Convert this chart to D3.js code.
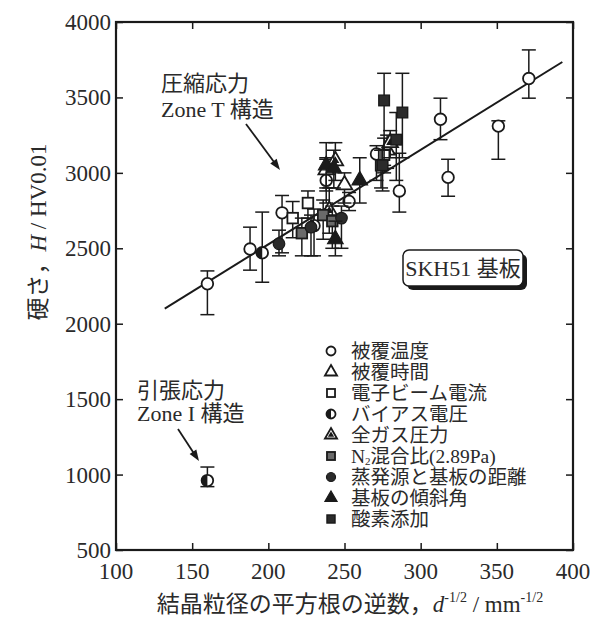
<!DOCTYPE html>
<html>
<head>
<meta charset="utf-8">
<script src="https://cdn.jsdelivr.net/npm/d3@7"></script>
<style>
  html, body { margin: 0; padding: 0; background: #fff; }
  svg { display: block; }
  text { fill: #2a2a2a; font-family: "Liberation Serif", "Noto Sans CJK JP", serif; }
</style>
</head>
<body>
<svg id="chart" width="595" height="620"></svg>
<script>
// Axis ticks
const xTicks = [100, 150, 200, 250, 300, 350, 400];
const yTicks = [500, 1000, 1500, 2000, 2500, 3000, 3500, 4000];

// Series: [x, H, lower, upper]
const coatTemp = [ // 被覆温度
  [160, 2265, 2060, 2350], [188, 2495, 2355, 2640], [209, 2735, 2470, 2850],
  [238, 2950, 2800, 3090], [253, 2810, 2750, 2870], [271, 3125, 2950, 3180],
  [286, 2880, 2740, 3130], [313, 3355, 3220, 3495], [318, 2970, 2845, 3090],
  [351, 3310, 3090, 3345], [371, 3625, 3495, 3815]
];
const coatTime = [ // 被覆時間
  [238, 3020, 2880, 3100], [250, 2920, 2800, 3000], [278, 3150, 3030, 3250]
];
const beamCurrent = [ // 電子ビーム電流
  [216, 2700, 2570, 2810], [226, 2800, 2700, 2880], [276, 3120, 3000, 3230]
];
const biasVoltage = [ // バイアス電圧
  [160, 960, 920, 1050], [196, 2470, 2275, 2740], [230, 2650, 2450, 2760]
];
const gasPressure = [ // 全ガス圧力
  [240, 2750, 2600, 2900], [244, 3080, 2950, 3200], [280, 3200, 3100, 3280]
];
const n2Ratio = [ // N2混合比
  [222, 2600, 2450, 2700], [236, 2720, 2560, 2820], [242, 2680, 2500, 2780],
  [274, 3050, 2900, 3150]
];
const sourceDist = [ // 蒸発源と基板の距離
  [207, 2530, 2450, 2620], [228, 2640, 2450, 2720], [248, 2700, 2500, 2780]
];
const tiltAngle = [ // 基板の傾斜角
  [238, 3050, 2900, 3200], [243, 3030, 2900, 3150], [244, 2560, 2450, 2680],
  [260, 2950, 2800, 3100]
];
const oxygen = [ // 酸素添加
  [276, 3480, 3050, 3660], [288, 3400, 3100, 3660], [284, 3220, 2950, 3400],
  [275, 3050, 2880, 3150]
];

// Fitted line end points
const fitX = [132, 393];
const fitY = [2100, 3735];

const legendLabels = ["被覆温度", "被覆時間", "電子ビーム電流", "バイアス電圧", "全ガス圧力",
  "N2混合比(2.89Pa)", "蒸発源と基板の距離", "基板の傾斜角", "酸素添加"];
const markerKinds = ["circle", "triangle", "square", "halfCircle", "dotTriangle",
  "greySquare", "filledCircle", "filledTriangle", "filledSquare"];
const seriesList = [coatTemp, coatTime, beamCurrent, biasVoltage, gasPressure,
  n2Ratio, sourceDist, tiltAngle, oxygen];

const svg = d3.select("#chart");
const plotL = 116, plotR = 573, plotT = 22, plotB = 550;
const x = d3.scaleLinear().domain([100, 400]).range([plotL, plotR]);
const y = d3.scaleLinear().domain([500, 4000]).range([plotB, plotT]);

const ink = "#1a1a1a";

// Inward ticks on all four sides
const tickLen = 7;
svg.append("g").attr("transform", `translate(0,${plotB})`)
  .call(d3.axisBottom(x).tickValues(xTicks).tickSize(-tickLen).tickFormat(""))
  .call(g => g.select(".domain").remove());
svg.append("g").attr("transform", `translate(0,${plotT})`)
  .call(d3.axisTop(x).tickValues(xTicks).tickSize(-tickLen).tickFormat(""))
  .call(g => g.select(".domain").remove());
svg.append("g").attr("transform", `translate(${plotL},0)`)
  .call(d3.axisLeft(y).tickValues(yTicks).tickSize(-tickLen).tickFormat(""))
  .call(g => g.select(".domain").remove());
svg.append("g").attr("transform", `translate(${plotR},0)`)
  .call(d3.axisRight(y).tickValues(yTicks).tickSize(-tickLen).tickFormat(""))
  .call(g => g.select(".domain").remove());
svg.selectAll(".tick line").attr("stroke", ink).attr("stroke-width", 1.5);

// Frame
svg.append("rect").attr("x", plotL).attr("y", plotT)
  .attr("width", plotR - plotL).attr("height", plotB - plotT)
  .attr("fill", "none").attr("stroke", ink).attr("stroke-width", 2.2);

// Tick labels
svg.append("g").selectAll("text").data(yTicks).join("text")
  .attr("x", plotL - 5).attr("y", d => y(d) + 8)
  .attr("text-anchor", "end").attr("font-size", 23).text(d => d);
svg.append("g").selectAll("text").data(xTicks).join("text")
  .attr("x", d => x(d)).attr("y", plotB + 29)
  .attr("text-anchor", "middle").attr("font-size", 23).text(d => d);

// Axis titles
const xt = svg.append("text").attr("x", 350).attr("y", 612)
  .attr("text-anchor", "middle").attr("font-size", 23);
xt.append("tspan").text("結晶粒径の平方根の逆数，");
xt.append("tspan").attr("font-style", "italic").text("d");
xt.append("tspan").attr("font-size", 14).attr("dy", -10).text("-1/2");
xt.append("tspan").attr("dy", 10).text(" / mm");
xt.append("tspan").attr("font-size", 14).attr("dy", -10).text("-1/2");

const yt = svg.append("text").attr("transform", "translate(46,232) rotate(-90)")
  .attr("text-anchor", "middle").attr("font-size", 23);
yt.append("tspan").text("硬さ，");
yt.append("tspan").attr("font-style", "italic").text("H");
yt.append("tspan").text(" / HV0.01");

// Fitted line
svg.append("line")
  .attr("x1", x(fitX[0])).attr("y1", y(fitY[0]))
  .attr("x2", x(fitX[1])).attr("y2", y(fitY[1]))
  .attr("stroke", ink).attr("stroke-width", 2);

// Marker drawing
const triPath = d3.symbol().type(d3.symbolTriangle);
function drawMarker(g, kind, s) {
  const r = 5.8 * s;
  switch (kind) {
    case "circle":
      g.append("circle").attr("r", r).attr("fill", "#fff").attr("stroke", ink).attr("stroke-width", 1.8);
      break;
    case "filledCircle":
      g.append("circle").attr("r", r).attr("fill", "#2b2b2b").attr("stroke", ink).attr("stroke-width", 1.2);
      break;
    case "halfCircle":
      g.append("circle").attr("r", r).attr("fill", "#fff").attr("stroke", ink).attr("stroke-width", 1.8);
      g.append("path").attr("d", `M0,${-r}A${r},${r} 0 0 0 0,${r}Z`).attr("fill", ink);
      break;
    case "triangle":
      g.append("path").attr("d", triPath.size(105 * s * s)()).attr("fill", "#fff")
        .attr("stroke", ink).attr("stroke-width", 1.8);
      break;
    case "dotTriangle":
      g.append("path").attr("d", triPath.size(105 * s * s)()).attr("fill", "#fff")
        .attr("stroke", ink).attr("stroke-width", 1.8);
      g.append("path").attr("d", triPath.size(28 * s * s)()).attr("fill", ink);
      break;
    case "filledTriangle":
      g.append("path").attr("d", triPath.size(105 * s * s)()).attr("fill", ink)
        .attr("stroke", ink).attr("stroke-width", 1.2);
      break;
    case "square":
      g.append("rect").attr("x", -r + 0.5).attr("y", -r + 0.5).attr("width", 2 * r - 1).attr("height", 2 * r - 1)
        .attr("fill", "#fff").attr("stroke", ink).attr("stroke-width", 1.8);
      break;
    case "greySquare":
      g.append("rect").attr("x", -r + 0.5).attr("y", -r + 0.5).attr("width", 2 * r - 1).attr("height", 2 * r - 1)
        .attr("fill", "#6a6a6a").attr("stroke", ink).attr("stroke-width", 1.8);
      break;
    case "filledSquare":
      g.append("rect").attr("x", -r + 0.5).attr("y", -r + 0.5).attr("width", 2 * r - 1).attr("height", 2 * r - 1)
        .attr("fill", "#2b2b2b").attr("stroke", ink).attr("stroke-width", 1.4);
      break;
  }
}

// Error bars and markers
const cap = 7;
seriesList.forEach((data, i) => {
  const g = svg.append("g");
  data.forEach(d => {
    const eb = g.append("g").attr("stroke", ink).attr("stroke-width", 1.5);
    eb.append("line").attr("x1", x(d[0])).attr("x2", x(d[0])).attr("y1", y(d[2])).attr("y2", y(d[3]));
    eb.append("line").attr("x1", x(d[0]) - cap).attr("x2", x(d[0]) + cap).attr("y1", y(d[2])).attr("y2", y(d[2]));
    eb.append("line").attr("x1", x(d[0]) - cap).attr("x2", x(d[0]) + cap).attr("y1", y(d[3])).attr("y2", y(d[3]));
  });
  data.forEach(d => {
    const m = g.append("g").attr("transform", `translate(${x(d[0])},${y(d[1])})`);
    drawMarker(m, markerKinds[i], 1);
  });
});

// Legend
const lg = svg.append("g");
legendLabels.forEach((lab, i) => {
  const yy = 351 + i * 21;
  const m = lg.append("g").attr("transform", `translate(331,${yy})`);
  drawMarker(m, markerKinds[i], 0.78);
  const t = lg.append("text").attr("x", 351).attr("y", yy + 7).attr("font-size", 19.5);
  if (lab.startsWith("N2")) {
    t.append("tspan").text("N");
    t.append("tspan").attr("font-size", 11).attr("dy", 2).text("2");
    t.append("tspan").attr("dy", -2).text(lab.slice(2));
  } else {
    t.text(lab);
  }
});

// Annotations
function arrow(x1, y1, x2, y2) {
  const ang = Math.atan2(y2 - y1, x2 - x1);
  const L = 11, W = 4;
  svg.append("line").attr("x1", x1).attr("y1", y1)
    .attr("x2", x2 - Math.cos(ang) * L * 0.8).attr("y2", y2 - Math.sin(ang) * L * 0.8)
    .attr("stroke", ink).attr("stroke-width", 1.8);
  const bx = x2 - Math.cos(ang) * L, by = y2 - Math.sin(ang) * L;
  svg.append("path").attr("d",
    `M${x2},${y2}L${bx - Math.sin(ang) * W},${by + Math.cos(ang) * W}L${bx + Math.sin(ang) * W},${by - Math.cos(ang) * W}Z`)
    .attr("fill", ink);
}
svg.append("text").attr("x", 161).attr("y", 91).attr("font-size", 22).text("圧縮応力");
svg.append("text").attr("x", 161).attr("y", 117).attr("font-size", 22).text("Zone T 構造");
arrow(246, 124, 280, 170);

svg.append("text").attr("x", 137).attr("y", 398).attr("font-size", 22).text("引張応力");
svg.append("text").attr("x", 137).attr("y", 421).attr("font-size", 22).text("Zone I 構造");
arrow(178, 429, 199, 461);

// Substrate label box with drop shadow
svg.append("rect").attr("x", 407).attr("y", 254).attr("width", 120).attr("height", 36)
  .attr("rx", 6).attr("fill", ink);
svg.append("rect").attr("x", 403).attr("y", 250).attr("width", 120).attr("height", 36)
  .attr("rx", 6).attr("fill", "#fff").attr("stroke", ink).attr("stroke-width", 1.5);
svg.append("text").attr("x", 463).attr("y", 276).attr("text-anchor", "middle")
  .attr("font-size", 22).text("SKH51 基板");
</script>
</body>
</html>
